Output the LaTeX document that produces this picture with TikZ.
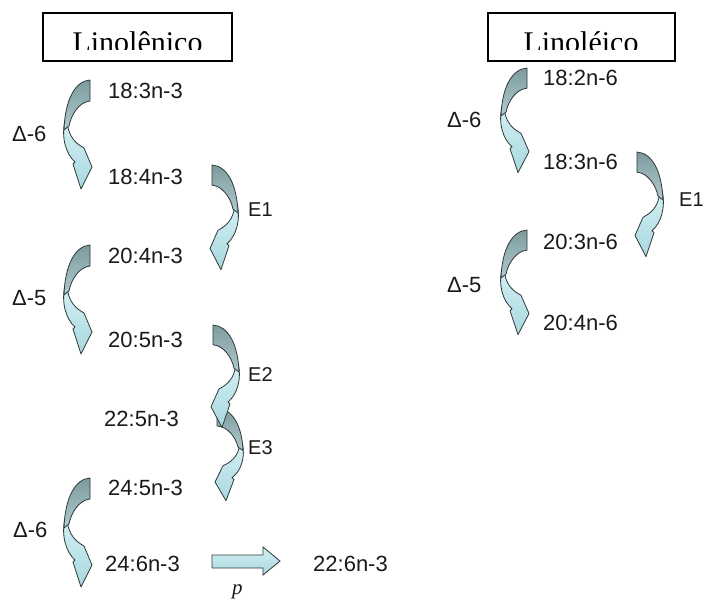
\documentclass[tikz,border=0pt]{standalone}
\usepackage{fontspec}
\setmainfont{Liberation Serif}
\setsansfont{Liberation Sans}
\definecolor{edgec}{HTML}{2F3838}
\definecolor{darkA}{HTML}{7D9B9F}
\definecolor{darkB}{HTML}{B0CACD}
\definecolor{lightA}{HTML}{D4F0F4}
\definecolor{lightB}{HTML}{A8D8DF}
\definecolor{txt}{HTML}{1A1A1A}
\tikzset{
  lbl/.style={font=\sffamily\fontsize{22}{26}\selectfont, anchor=west, inner sep=0pt, text=txt},
  elbl/.style={font=\sffamily\fontsize{20}{24}\selectfont, anchor=west, inner sep=0pt, text=txt},
  titlebox/.style={draw=black, line width=1.6pt, inner sep=0pt},
  titletext/.style={font=\rmfamily\fontsize{30}{34}\selectfont, inner sep=0pt, anchor=base},
  bendarrow/.pic={
    \path[draw=edgec, line width=0.8pt, line join=round, top color=lightA, bottom color=lightB]
      (-25,40) .. controls (-29,58) and (-24,74) .. (-15,82) -- (-17,84) -- (-9,109) -- (2,87) -- (-6,68)
      .. controls (-13,64) and (-22,58) .. (-23,40) -- cycle;
    \path[draw=edgec, line width=0.8pt, line join=round, top color=darkA, bottom color=darkB]
      (0,0) .. controls (-15,1) and (-25,20) .. (-26,50) -- (-21,46)
      .. controls (-19,35) and (-11,22) .. (0,21) -- cycle;
  },
  blockarrow/.style={draw=edgec, line width=0.8pt, line join=miter, top color=lightA, bottom color=lightB}
}
\begin{document}
\begin{tikzpicture}[x=1pt,y=-1pt]
\useasboundingbox (0,0) rectangle (704,600);
\fill[white] (0,0) rectangle (704,600);

% title boxes
\node[titlebox, minimum width=189pt, minimum height=48pt] (lnbox) at (137.5,37) {};
\begin{scope}
  \clip (43,13) rectangle (232,49);
  \node[titletext] (lntitle) at (137.5,52) {Linolênico};
\end{scope}
\node[titlebox, minimum width=187pt, minimum height=48pt] (lebox) at (581.5,37) {};
\begin{scope}
  \clip (488,13) rectangle (675,49);
  \node[titletext] (letitle) at (581,52) {Linoléico};
\end{scope}

% curved arrows, left column
\pic at (90,80) {bendarrow};
\pic at (90,245) {bendarrow};
\pic at (90,478) {bendarrow};
\pic[xscale=-1, yscale=0.96] at (212,165) {bendarrow};
\pic[xscale=-1, yscale=0.85] at (217,408) {bendarrow};
\pic[xscale=-1, yscale=0.94] at (213,325) {bendarrow};

% curved arrows, right column
\pic[yscale=0.96] at (527,68) {bendarrow};
\pic[yscale=0.96] at (527,230) {bendarrow};
\pic[xscale=-1, yscale=0.96] at (637,152) {bendarrow};

% fatty acid labels, left
\node[lbl] (a1) at (108,91) {18:3n-3};
\node[lbl] (a2) at (108,177) {18:4n-3};
\node[lbl] (a3) at (108,256) {20:4n-3};
\node[lbl] (a4) at (108,340) {20:5n-3};
\node[lbl] (a5) at (104,419) {22:5n-3};
\node[lbl] (a6) at (108,488) {24:5n-3};
\node[lbl] (a7) at (105,564) {24:6n-3};
\node[lbl] (a8) at (313,564) {22:6n-3};

% fatty acid labels, right
\node[lbl] (b1) at (543,78) {18:2n-6};
\node[lbl] (b2) at (543,162) {18:3n-6};
\node[lbl] (b3) at (543,242) {20:3n-6};
\node[lbl] (b4) at (543,323) {20:4n-6};

% enzyme labels
\node[lbl] (d1) at (12,134) {Δ-6};
\node[lbl] (d2) at (12,298) {Δ-5};
\node[lbl] (d3) at (13,530) {Δ-6};
\node[elbl] (e1) at (248,210) {E1};
\node[elbl] (e2) at (248,375) {E2};
\node[elbl] (e3) at (248,448) {E3};
\node[lbl] (rd1) at (447,120) {Δ-6};
\node[lbl] (rd2) at (447,285) {Δ-5};
\node[elbl] (re1) at (679,200) {E1};

% straight block arrow with p
\path[blockarrow] (212,555) -- (263,555) -- (263,547) -- (280,561) -- (263,575) -- (263,568) -- (212,568) -- cycle;
\node[font=\rmfamily\itshape\fontsize{21}{24}\selectfont, inner sep=0pt, anchor=base west, text=txt] (pl) at (232,594) {p};
\end{tikzpicture}
\end{document}
